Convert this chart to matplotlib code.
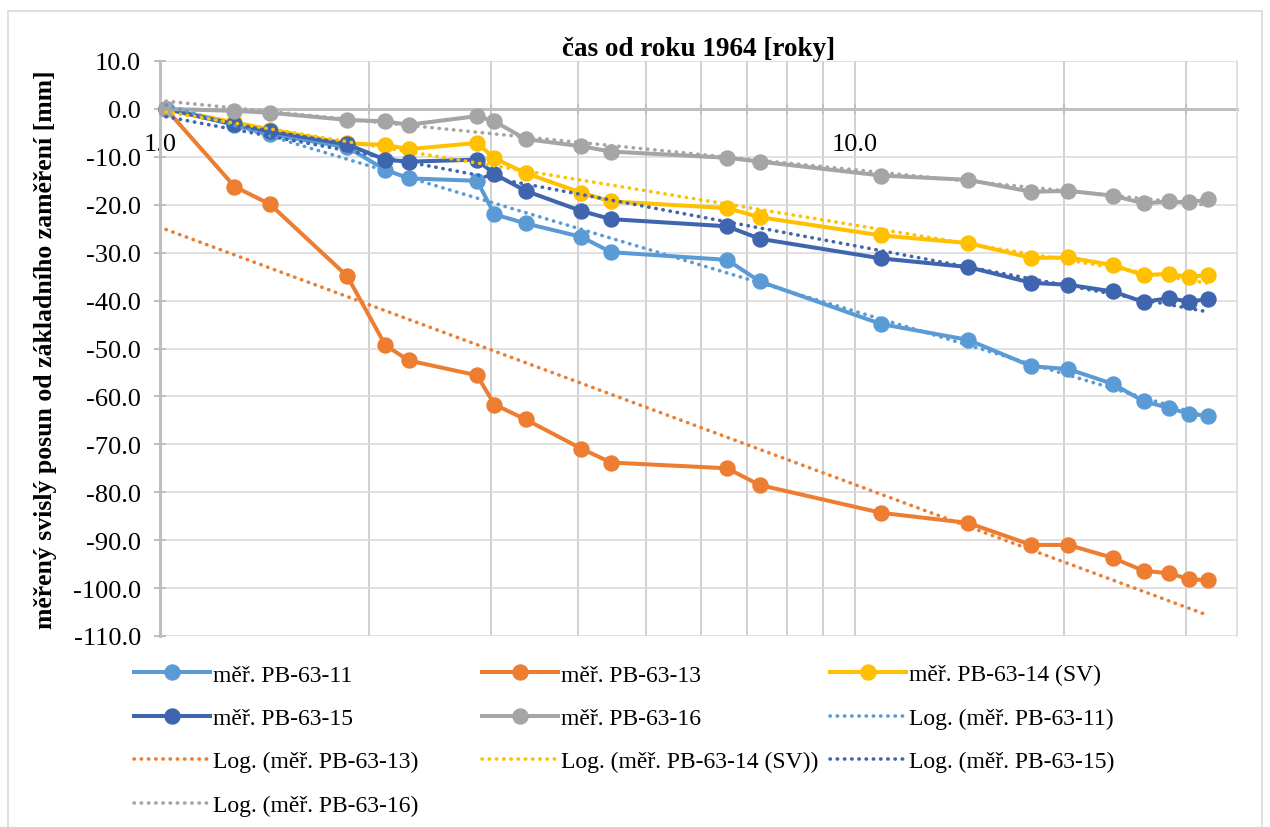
import matplotlib
matplotlib.use("Agg")
import matplotlib.pyplot as plt
import numpy as np
from matplotlib.ticker import FixedLocator, FuncFormatter, NullFormatter
from matplotlib.patches import Rectangle

plt.rcParams['font.family'] = ['Liberation Serif', 'DejaVu Serif']

# years since 1964 (log axis)
roky = [1.02, 1.28, 1.44, 1.86, 2.11, 2.28, 2.86, 3.03, 3.36, 4.04, 4.46,
        6.55, 7.30, 10.92, 14.56, 17.96, 20.3, 23.53, 26.05, 28.3, 30.27, 32.28]

pb11 = [0, -3.3, -5.3, -8.0, -12.7, -14.5, -15.0, -22.0, -23.9, -26.7, -29.9,
        -31.5, -36.0, -44.9, -48.2, -53.7, -54.3, -57.4, -61.0, -62.4, -63.6, -64.1]
pb13 = [0, -16.2, -19.9, -34.9, -49.3, -52.5, -55.6, -61.7, -64.8, -70.9, -73.8,
        -75.0, -78.5, -84.3, -86.4, -91.0, -91.0, -93.7, -96.4, -96.9, -98.1, -98.4]
pb14 = [0, -2.8, -4.3, -7.2, -7.5, -8.4, -7.1, -10.3, -13.4, -17.5, -19.3,
        -20.7, -22.6, -26.4, -28.0, -31.1, -31.0, -32.6, -34.7, -34.4, -35.1, -34.6]
pb15 = [0, -3.2, -4.7, -7.4, -10.6, -11.0, -10.6, -13.6, -17.1, -21.3, -23.0,
        -24.5, -27.1, -31.2, -33.0, -36.3, -36.7, -38.1, -40.3, -39.5, -40.2, -39.7]
pb16 = [0, -0.4, -0.8, -2.3, -2.6, -3.3, -1.5, -2.6, -6.3, -7.8, -8.9,
        -10.2, -11.0, -13.9, -14.8, -17.3, -17.1, -18.1, -19.7, -19.3, -19.5, -18.9]

nazvy = ['měř. PB-63-11', 'měř. PB-63-13', 'měř. PB-63-14 (SV)', 'měř. PB-63-15', 'měř. PB-63-16']
barvy = ['#5B9BD5', '#ED7D31', '#FFC000', '#3E65AE', '#A5A5A5']
rady = [pb11, pb13, pb14, pb15, pb16]

W, H = 1270, 828
fig = plt.figure(figsize=(W / 100, H / 100), dpi=100)
ax = fig.add_axes([160 / W, 1 - 637 / H, (1237 - 160) / W, (637 - 62) / H])

x = np.array(roky)
car = []
for y, c, n in zip(rady, barvy, nazvy):
    l, = ax.plot(x, y, color=c, lw=2.9, marker='o', ms=10.8, label=n,
                 clip_on=False, zorder=3)
    car.append(l)

# logarithmic trendlines (Excel style)
xt = np.geomspace(x.min(), x.max(), 200)
trend = []
for y, c, n in zip(rady, barvy, nazvy):
    k, q = np.polyfit(np.log(x), np.array(y), 1)
    l, = ax.plot(xt, k * np.log(xt) + q, color=c, lw=2.6, linestyle=(0, (0.1, 1.9)),
                 dash_capstyle='round', label='Log. (' + n + ')', zorder=4)
    trend.append(l)

ax.set_xscale('log')
ax.set_xlim(1, 35.5)
ax.set_ylim(-110, 10)
ax.xaxis.set_major_locator(FixedLocator([1, 10]))
ax.xaxis.set_minor_locator(FixedLocator([2, 3, 4, 5, 6, 7, 8, 9, 20, 30]))
ax.xaxis.set_major_formatter(FuncFormatter(lambda v, p: f'{v:.1f}'))
ax.xaxis.set_minor_formatter(NullFormatter())
ax.yaxis.set_major_locator(FixedLocator(np.arange(-110, 11, 10)))
ax.yaxis.set_major_formatter(FuncFormatter(lambda v, p: f'{v:.1f}'))

ax.grid(True, which='both', axis='x', color='#C4C4C4', lw=1.1)
ax.grid(True, which='major', axis='y', color='#D9D9D9', lw=1.1)
ax.set_axisbelow(True)

ax.spines['top'].set_visible(False)
ax.spines['right'].set_color('#D9D9D9')
ax.spines['right'].set_linewidth(1.1)
ax.spines['left'].set_color('#BFBFBF')
ax.spines['left'].set_linewidth(2.2)
ax.spines['bottom'].set_position(('data', 0))
ax.spines['bottom'].set_color('#BFBFBF')
ax.spines['bottom'].set_linewidth(2.2)
ax.spines['bottom'].set_zorder(2)

ax.tick_params(axis='y', direction='inout', length=9, width=1.5, color='#BFBFBF',
               pad=9, labelsize=19)
ax.tick_params(axis='x', which='both', direction='inout', length=7, width=1.5,
               color='#BFBFBF', pad=14, labelsize=19)

ax.set_title('čas od roku 1964 [roky]', fontweight='bold', fontsize=19.5, pad=3)
fig.text(46 / W, 1 - 349.5 / H, 'měřený svislý posun od základního zaměření [mm]',
         rotation=90, ha='center', va='center', fontweight='bold', fontsize=18.5)

# legend in three equal columns like Excel
sloupce = [[car[0], car[3], trend[1], trend[4]],
           [car[1], car[4], trend[2]],
           [car[2], trend[0], trend[3]]]
for i, h in enumerate(sloupce):
    fig.legend(handles=h, labels=[l.get_label() for l in h], loc='upper left',
               bbox_to_anchor=((134 + 348 * i) / W, 1 - 665 / H), frameon=False,
               borderpad=0, borderaxespad=0, fontsize=17, handlelength=3.2,
               handletextpad=0.15, labelspacing=0.93, numpoints=1)

fig.patches.append(Rectangle((8 / W, -0.05), (1262 - 8) / W, 1 - 12 / H + 0.05,
                             transform=fig.transFigure, fill=False,
                             edgecolor='#D9D9D9', lw=1.2))

fig.savefig('out.png', dpi=100)
